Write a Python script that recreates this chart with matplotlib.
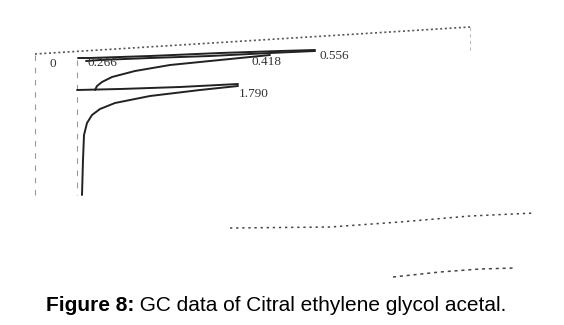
import matplotlib.pyplot as plt

# scan of a GC chromatogram: retention time runs down the page, signal runs to the right
# values below are read off the picture in scan units (x = signal, y = time)

peak_labels = ["0", "0.266", "0.418", "0.556", "1.790"]
label_x = [50, 88, 252, 319, 239]
label_y = [64, 63, 62, 56, 94]

# top bundle: peaks 0.266 / 0.418 / 0.556
front_x = [78, 90, 150, 220, 280, 315]
front_y = [58, 58, 56, 53, 51, 50]
back_x = [315, 270, 210, 150, 100, 86]
back_y = [51, 53, 56, 58, 60, 61]

# tail of 0.418 curving back to baseline
tail1_x = [270, 250, 210, 170, 135, 112, 102, 97, 95]
tail1_y = [55, 57, 61, 65, 71, 77, 82, 86, 90]

# peak 1.790
rise_x = [77, 120, 180, 238]
rise_y = [90, 89, 87, 84]
fall_x = [238, 200, 150, 115, 100, 92, 87, 84, 83, 82]
fall_y = [86, 90, 96, 103, 109, 115, 123, 135, 160, 195]

# faint dotted frame of the scan
frame_top_x = [35, 470]
frame_top_y = [54, 27]
frame_right_x = [470, 470]
frame_right_y = [27, 50]
left_axis_x = [35, 35]
left_axis_y = [55, 195]
base_axis_x = [77, 77]
base_axis_y = [60, 195]
bottom1_x = [230, 330, 400, 470, 535]
bottom1_y = [228, 227, 222, 216, 213]
bottom2_x = [393, 440, 480, 515]
bottom2_y = [277, 272, 269, 268]

fig = plt.figure(figsize=(5.64, 3.25), dpi=100)
ax = fig.add_axes([0, 0, 1, 1])
ax.set_xlim(0, 564)
ax.set_ylim(325, 0)
ax.axis('off')

grey = '#555555'
ax.plot(frame_top_x, frame_top_y, color=grey, lw=1.2, ls=(0, (1.2, 1.6)))
ax.plot(frame_right_x, frame_right_y, color='#bbbbbb', lw=0.8, ls=(0, (3, 3)))
ax.plot(left_axis_x, left_axis_y, color='#999999', lw=0.8, ls=(0, (5, 6)))
ax.plot(base_axis_x, base_axis_y, color='#999999', lw=0.8, ls=(0, (5, 6)))
ax.plot(bottom1_x, bottom1_y, color='#444444', lw=1.1, ls=(0, (1.5, 2.5)))
ax.plot(bottom2_x, bottom2_y, color='#444444', lw=1.1, ls=(0, (2, 2.5)))

trace = '#222222'
for xs, ys in [(front_x, front_y), (back_x, back_y), (tail1_x, tail1_y),
               (rise_x, rise_y), (fall_x, fall_y)]:
    ax.plot(xs, ys, color=trace, lw=1.4, solid_capstyle='round')

for txt, x, y in zip(peak_labels, label_x, label_y):
    ax.text(x, y, txt, fontsize=9.5, family=['Liberation Sans Narrow', 'Liberation Serif'],
            color='#333333', ha='left', va='center')

t1 = ax.text(46, 311, "Figure 8:", fontsize=15, fontweight='bold',
             family='Liberation Sans', ha='left', va='baseline')
ax.annotate(" GC data of Citral ethylene glycol acetal.", xy=(1, 0), xycoords=t1,
            fontsize=15, family='Liberation Sans', ha='left', va='bottom')

fig.savefig('out.png', dpi=100)
